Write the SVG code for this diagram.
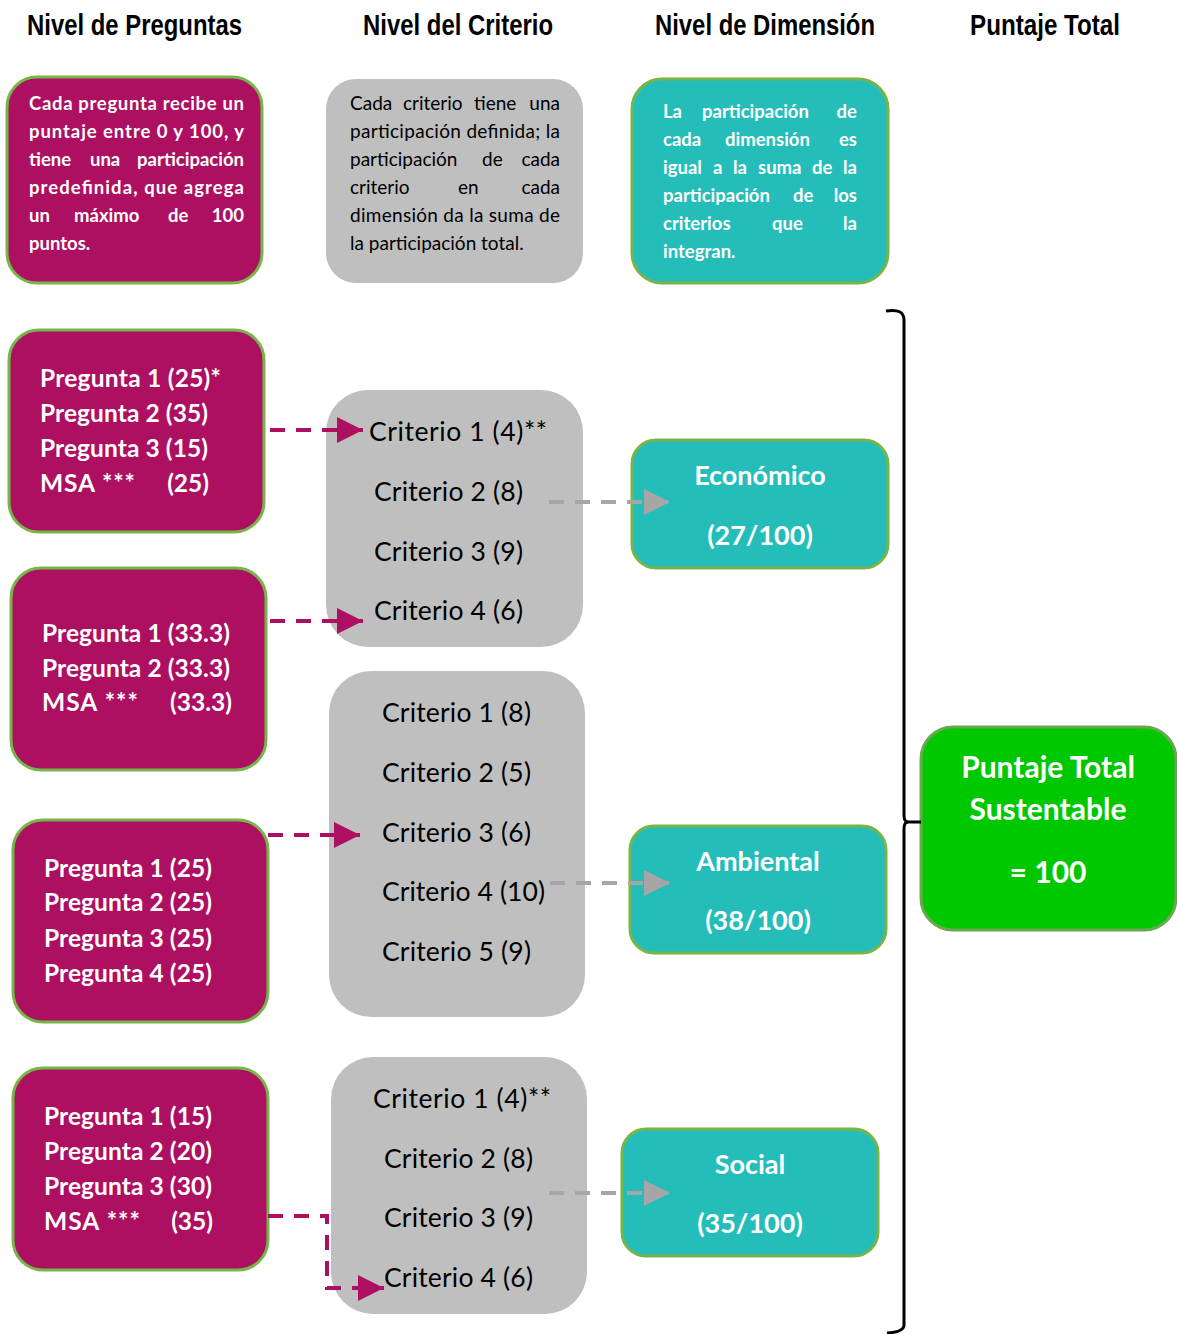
<svg xmlns="http://www.w3.org/2000/svg" width="1177" height="1334" viewBox="0 0 1177 1334">
<style>
.h{font-family:"Liberation Sans",Arial,sans-serif;font-weight:bold;font-size:29px;fill:#000}
.dw{font-family:Lato,"Open Sans",sans-serif;font-weight:bold;font-size:18.5px;fill:#fff}
.dk{font-family:Lato,"Open Sans",sans-serif;font-size:19px;fill:#000}
.q{font-family:Lato,"Open Sans",sans-serif;font-weight:bold;font-size:24.5px;fill:#fff}
.c{font-family:Lato,"Open Sans",sans-serif;font-size:26.5px;fill:#000}
.dim{font-family:Lato,"Open Sans",sans-serif;font-weight:bold;font-size:27px;fill:#fff;text-anchor:middle}
.tot{font-family:Lato,"Open Sans",sans-serif;font-weight:bold;font-size:30px;fill:#fff;text-anchor:middle}
.mag{fill:#ad1060;stroke:#77b54a;stroke-width:3}
.gry{fill:#bfbfbf}
.tea{fill:#25bdb9;stroke:#77b54a;stroke-width:3}
.grn{fill:#00c800;stroke:#6aa84f;stroke-width:3}
.cm{fill:none;stroke:#ad1060;stroke-width:4;stroke-dasharray:15 11}
.cg{fill:none;stroke:#a6a6a6;stroke-width:4;stroke-dasharray:15 11}
.e{text-anchor:end}
</style>
<defs>
<marker id="am" markerUnits="userSpaceOnUse" markerWidth="26" markerHeight="26" refX="26" refY="13" orient="auto"><path d="M0,0 L26,13 L0,26 Z" fill="#ad1060"/></marker>
<marker id="ag" markerUnits="userSpaceOnUse" markerWidth="26" markerHeight="26" refX="26" refY="13" orient="auto"><path d="M0,0 L26,13 L0,26 Z" fill="#a6a6a6"/></marker>
</defs>

<g id="headers">
<text class="h" x="27" y="35" textLength="215" lengthAdjust="spacingAndGlyphs">Nivel de Preguntas</text>
<text class="h" x="363" y="35" textLength="190" lengthAdjust="spacingAndGlyphs">Nivel del Criterio</text>
<text class="h" x="655" y="35" textLength="220" lengthAdjust="spacingAndGlyphs">Nivel de Dimensión</text>
<text class="h" x="970" y="35" textLength="150" lengthAdjust="spacingAndGlyphs">Puntaje Total</text>
</g>

<g id="desc-preguntas">
<rect class="mag" x="7" y="77" width="255" height="206" rx="30"/>
<text class="dw" x="29" y="110" textLength="215">Cada pregunta recibe un</text>
<text class="dw" x="29" y="138" textLength="215">puntaje entre 0 y 100, y</text>
<text class="dw" x="29" y="166">tiene</text><text class="dw" x="90" y="166">una</text><text class="dw e" x="244" y="166">participación</text>
<text class="dw" x="29" y="194" textLength="215">predefinida, que agrega</text>
<text class="dw" x="29" y="222">un</text><text class="dw" x="74" y="222">máximo</text><text class="dw" x="168" y="222">de</text><text class="dw e" x="244" y="222">100</text>
<text class="dw" x="29" y="250">puntos.</text>
</g>

<g id="desc-criterio">
<rect class="gry" x="326" y="79" width="257" height="204" rx="30"/>
<text class="dk" x="350" y="110">Cada</text><text class="dk" x="403" y="110">criterio</text><text class="dk" x="474" y="110">tiene</text><text class="dk e" x="560" y="110">una</text>
<text class="dk" x="350" y="138" textLength="210">participación definida; la</text>
<text class="dk" x="350" y="166">participación</text><text class="dk" x="482" y="166">de</text><text class="dk e" x="560" y="166">cada</text>
<text class="dk" x="350" y="194">criterio</text><text class="dk" x="458" y="194">en</text><text class="dk e" x="560" y="194">cada</text>
<text class="dk" x="350" y="222" textLength="210">dimensión da la suma de</text>
<text class="dk" x="350" y="250">la participación total.</text>
</g>

<g id="desc-dimension">
<rect class="tea" x="632" y="79" width="256" height="204" rx="30"/>
<text class="dw" x="663" y="118">La</text><text class="dw" x="702" y="118">participación</text><text class="dw e" x="857" y="118">de</text>
<text class="dw" x="663" y="146">cada</text><text class="dw" x="725" y="146">dimensión</text><text class="dw e" x="857" y="146">es</text>
<text class="dw" x="663" y="174">igual</text><text class="dw" x="713" y="174">a</text><text class="dw" x="733" y="174">la</text><text class="dw" x="758" y="174">suma</text><text class="dw" x="812" y="174">de</text><text class="dw e" x="857" y="174">la</text>
<text class="dw" x="663" y="202">participación</text><text class="dw" x="793" y="202">de</text><text class="dw e" x="857" y="202">los</text>
<text class="dw" x="663" y="230">criterios</text><text class="dw" x="772" y="230">que</text><text class="dw e" x="857" y="230">la</text>
<text class="dw" x="663" y="258">integran.</text>
</g>

<g id="preguntas-1">
<rect class="mag" x="9" y="330" width="255" height="202" rx="30"/>
<text class="q" x="40" y="387" textLength="181">Pregunta 1 (25)*</text>
<text class="q" x="40" y="422" textLength="168">Pregunta 2 (35)</text>
<text class="q" x="40" y="457" textLength="168">Pregunta 3 (15)</text>
<text class="q" x="40" y="492" textLength="95">MSA ***</text><text class="q e" x="209" y="492">(25)</text>
</g>

<g id="preguntas-2">
<rect class="mag" x="11" y="568" width="255" height="202" rx="30"/>
<text class="q" x="42" y="642" textLength="188">Pregunta 1 (33.3)</text>
<text class="q" x="42" y="677" textLength="188">Pregunta 2 (33.3)</text>
<text class="q" x="42" y="711" textLength="96">MSA ***</text><text class="q e" x="232" y="711">(33.3)</text>
</g>

<g id="preguntas-3">
<rect class="mag" x="13" y="820" width="255" height="202" rx="30"/>
<text class="q" x="44" y="877" textLength="168">Pregunta 1 (25)</text>
<text class="q" x="44" y="911" textLength="168">Pregunta 2 (25)</text>
<text class="q" x="44" y="947" textLength="168">Pregunta 3 (25)</text>
<text class="q" x="44" y="982" textLength="168">Pregunta 4 (25)</text>
</g>

<g id="preguntas-4">
<rect class="mag" x="13" y="1068" width="255" height="202" rx="30"/>
<text class="q" x="44" y="1125" textLength="168">Pregunta 1 (15)</text>
<text class="q" x="44" y="1160" textLength="168">Pregunta 2 (20)</text>
<text class="q" x="44" y="1195" textLength="168">Pregunta 3 (30)</text>
<text class="q" x="44" y="1230" textLength="96">MSA ***</text><text class="q e" x="213" y="1230">(35)</text>
</g>

<g id="criterios-economico">
<rect class="gry" x="326" y="390" width="257" height="257" rx="42"/>
<text class="c" x="369" y="441" textLength="178">Criterio 1 (4)**</text>
<text class="c" x="374" y="501" textLength="149">Criterio 2 (8)</text>
<text class="c" x="374" y="561" textLength="149">Criterio 3 (9)</text>
<text class="c" x="374" y="620" textLength="149">Criterio 4 (6)</text>
</g>

<g id="criterios-ambiental">
<rect class="gry" x="329" y="671" width="256" height="346" rx="42"/>
<text class="c" x="382" y="722" textLength="149">Criterio 1 (8)</text>
<text class="c" x="382" y="782" textLength="149">Criterio 2 (5)</text>
<text class="c" x="382" y="842" textLength="149">Criterio 3 (6)</text>
<text class="c" x="382" y="901" textLength="163">Criterio 4 (10)</text>
<text class="c" x="382" y="961" textLength="149">Criterio 5 (9)</text>
</g>

<g id="criterios-social">
<rect class="gry" x="331" y="1057" width="256" height="257" rx="42"/>
<text class="c" x="373" y="1108" textLength="178">Criterio 1 (4)**</text>
<text class="c" x="384" y="1168" textLength="149">Criterio 2 (8)</text>
<text class="c" x="384" y="1227" textLength="149">Criterio 3 (9)</text>
<text class="c" x="384" y="1287" textLength="149">Criterio 4 (6)</text>
</g>

<g id="economico">
<rect class="tea" x="632" y="440" width="256" height="128" rx="24"/>
<text class="dim" x="760" y="485">Económico</text>
<text class="dim" x="760" y="545">(27/100)</text>
</g>

<g id="ambiental">
<rect class="tea" x="630" y="826" width="256" height="127" rx="24"/>
<text class="dim" x="758" y="871">Ambiental</text>
<text class="dim" x="758" y="930">(38/100)</text>
</g>

<g id="social">
<rect class="tea" x="622" y="1129" width="256" height="127" rx="24"/>
<text class="dim" x="750" y="1174">Social</text>
<text class="dim" x="750" y="1233">(35/100)</text>
</g>

<g id="total">
<rect class="grn" x="921" y="727" width="255" height="203" rx="32"/>
<text class="tot" x="1048" y="778">Puntaje Total</text>
<text class="tot" x="1048" y="820">Sustentable</text>
<text class="tot" x="1048" y="883">= 100</text>
</g>

<g id="connectors">
<path class="cm" d="M270,430 L363,430" marker-end="url(#am)"/>
<path class="cm" d="M270,621 L363,621" marker-end="url(#am)"/>
<path class="cm" d="M268,835 L360,835" marker-end="url(#am)"/>
<path class="cm" d="M268,1216 L327,1216 L327,1288 L384,1288" marker-end="url(#am)"/>
<path class="cg" d="M549,502 L670,502" marker-end="url(#ag)"/>
<path class="cg" d="M550,883 L670,883" marker-end="url(#ag)"/>
<path class="cg" d="M549,1193 L670,1193" marker-end="url(#ag)"/>
<path d="M886,311 Q904,308 904,320 L904,815 Q904,822 908,822 Q904,822 904,829 L904,1325 Q904,1332 887,1333" fill="none" stroke="#000" stroke-width="3"/>
<path d="M905,822 L921,822" fill="none" stroke="#000" stroke-width="3"/>
</g>
</svg>
